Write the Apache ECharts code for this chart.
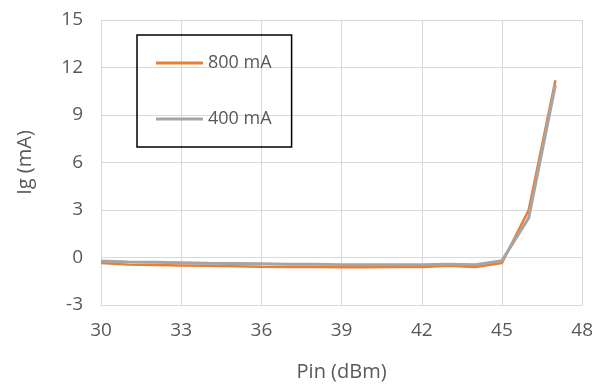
<!DOCTYPE html>
<html>
<head>
<meta charset="utf-8">
<script src="https://cdn.jsdelivr.net/npm/echarts@6/dist/echarts.min.js"></script>
<style>
  html, body { margin: 0; padding: 0; background: #fff; }
  #chart { width: 596px; height: 387px; }
</style>
</head>
<body>
<div id="chart"></div>
<script>
const pin = [30, 31, 32, 33, 34, 35, 36, 37, 38, 39, 40, 41, 42, 43, 44, 45, 46, 47]
const ig800 = [-0.35, -0.45, -0.48, -0.5, -0.52, -0.55, -0.58, -0.6, -0.6, -0.62, -0.62, -0.6, -0.6, -0.52, -0.6, -0.35, 3.0, 11.2]
const ig400 = [-0.22, -0.28, -0.3, -0.33, -0.36, -0.38, -0.4, -0.43, -0.43, -0.45, -0.45, -0.45, -0.45, -0.42, -0.45, -0.2, 2.5, 10.9]

const textColor = '#595959'
const font = 'Open Sans'

const pairs = (ys) => pin.map((x, i) => [x, ys[i]])

const option = {
  animation: false,
  textStyle: { fontFamily: font },
  grid: { left: 101, top: 20, right: 12, bottom: 79 },
  legend: {
    orient: 'vertical',
    left: 137,
    top: 35,
    padding: [19, 20, 19, 19],
    icon: 'rect',
    itemWidth: 47,
    itemHeight: 3,
    itemGap: 38,
    borderColor: '#000',
    borderWidth: 1.5,
    textStyle: { color: textColor, fontSize: 18, fontFamily: font },
    data: ['800 mA', '400 mA']
  },
  xAxis: {
    type: 'value',
    min: 30,
    max: 48,
    interval: 3,
    name: 'Pin (dBm)',
    nameLocation: 'middle',
    nameGap: 57,
    nameTextStyle: { color: textColor, fontSize: 20 },
    axisLine: { show: true, onZero: false, lineStyle: { color: '#d9d9d9' } },
    axisTick: { show: false },
    axisLabel: { color: textColor, fontSize: 19, margin: 16 },
    splitLine: { show: true, lineStyle: { color: '#d9d9d9' } }
  },
  yAxis: {
    type: 'value',
    min: -3,
    max: 15,
    interval: 3,
    name: 'Ig (mA)',
    nameLocation: 'middle',
    nameGap: 66,
    nameTextStyle: { color: textColor, fontSize: 20 },
    axisLine: { show: true, lineStyle: { color: '#d9d9d9' } },
    axisTick: { show: false },
    axisLabel: { color: textColor, fontSize: 19, margin: 18 },
    splitLine: { show: true, lineStyle: { color: '#d9d9d9' } }
  },
  series: [
    {
      name: '400 mA',
      type: 'line',
      symbol: 'none',
      data: pairs(ig400),
      lineStyle: { color: '#a5a5a5', width: 3 },
      itemStyle: { color: '#a5a5a5' },
      z: 3
    },
    {
      name: '800 mA',
      type: 'line',
      symbol: 'none',
      data: pairs(ig800),
      lineStyle: { color: '#ed7d31', width: 2.5 },
      itemStyle: { color: '#ed7d31' },
      z: 2
    }
  ]
}

const chart = echarts.init(document.getElementById('chart'))
chart.setOption(option)
</script>
</body>
</html>
